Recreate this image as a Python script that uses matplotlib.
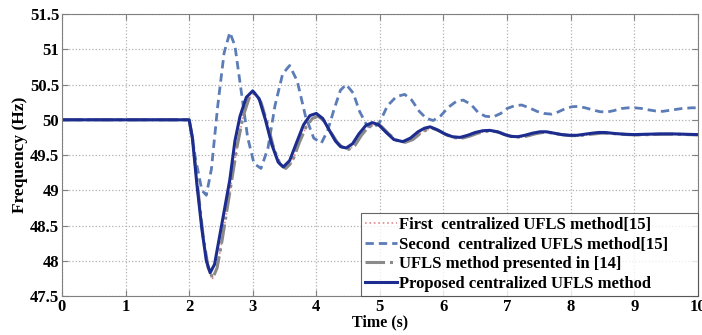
import matplotlib
matplotlib.use("Agg")
import matplotlib.pyplot as plt

# Second centralized UFLS method [15]
second_t = [0, 2.0, 2.1, 2.2, 2.27, 2.35, 2.45, 2.55, 2.64, 2.72, 2.82, 2.92, 3.02, 3.13,
            3.24, 3.35, 3.47, 3.58, 3.70, 3.83, 3.96, 4.08, 4.18, 4.28, 4.38, 4.47, 4.58,
            4.68, 4.79, 4.89, 5.0, 5.12, 5.26, 5.39, 5.5, 5.62, 5.73, 5.84, 5.96, 6.08,
            6.2, 6.31, 6.43, 6.55, 6.66, 6.78, 6.9, 7.0, 7.12, 7.23, 7.35, 7.47, 7.58,
            7.70, 7.8, 7.92, 8.02, 8.11, 8.23, 8.35, 8.46, 8.57, 8.68, 8.8, 8.9, 9.01,
            9.12, 9.23, 9.34, 9.45, 9.6, 9.75, 9.9, 10]
second_f = [50, 50, 49.45, 49.0, 48.93, 49.3, 50.2, 50.95, 51.24, 51.05, 50.4, 49.75, 49.38, 49.31,
            49.6, 50.2, 50.65, 50.77, 50.55, 50.05, 49.74, 49.67, 49.85, 50.15, 50.42, 50.5, 50.38,
            50.12, 49.93, 49.88, 49.97, 50.2, 50.33, 50.36, 50.28, 50.12, 50.02, 49.99, 50.06, 50.18,
            50.26, 50.28, 50.22, 50.1, 50.05, 50.04, 50.09, 50.16, 50.2, 50.21, 50.17, 50.12, 50.09,
            50.08, 50.11, 50.16, 50.185, 50.19, 50.17, 50.14, 50.115, 50.11, 50.13, 50.16, 50.17, 50.17,
            50.16, 50.14, 50.125, 50.12, 50.14, 50.16, 50.17, 50.17]

# Proposed centralized UFLS method
prop_t = [0, 2.0, 2.05, 2.12, 2.2, 2.27, 2.33, 2.4, 2.48, 2.57, 2.64, 2.72, 2.8, 2.9, 3.0,
          3.1, 3.2, 3.3, 3.4, 3.48, 3.58, 3.7, 3.8, 3.9, 4.0, 4.1, 4.2, 4.3, 4.38, 4.47,
          4.57, 4.67, 4.78, 4.88, 4.98, 5.1, 5.22, 5.36, 5.48, 5.6, 5.7, 5.79, 5.9, 6.02,
          6.14, 6.26, 6.38, 6.5, 6.62, 6.73, 6.85, 6.96, 7.06, 7.17, 7.28, 7.4, 7.52, 7.62,
          7.74, 7.86, 7.98, 8.1, 8.22, 8.34, 8.44, 8.54, 8.7, 8.85, 9.0, 9.2, 9.4, 9.6, 9.8, 10]
prop_f = [50, 50, 49.75, 49.1, 48.45, 48.0, 47.83, 47.95, 48.35, 48.8, 49.15, 49.7, 50.05, 50.32, 50.41,
          50.3, 50.0, 49.65, 49.4, 49.33, 49.42, 49.7, 49.93, 50.06, 50.09, 50.02, 49.86, 49.7, 49.62, 49.6,
          49.66, 49.8, 49.92, 49.96, 49.93, 49.82, 49.72, 49.69, 49.74, 49.83, 49.88, 49.9, 49.86, 49.8,
          49.76, 49.75, 49.78, 49.82, 49.845, 49.85, 49.83, 49.79, 49.765, 49.76, 49.78, 49.81, 49.83, 49.83,
          49.81, 49.79, 49.78, 49.78, 49.795, 49.81, 49.82, 49.82, 49.805, 49.795, 49.79, 49.795, 49.8, 49.8, 49.795, 49.79]

# UFLS method presented in [14]
ufls14_t = [0, 2.0, 2.06, 2.14, 2.22, 2.3, 2.37, 2.44, 2.52, 2.6, 2.68, 2.76, 2.85, 2.94, 3.03,
            3.13, 3.23, 3.33, 3.43, 3.52, 3.62, 3.73, 3.84, 3.94, 4.03, 4.13, 4.23, 4.33, 4.42,
            4.51, 4.61, 4.71, 4.82, 4.92, 5.02, 5.14, 5.26, 5.4, 5.52, 5.64, 5.74, 5.83, 5.94,
            6.06, 6.18, 6.3, 6.42, 6.54, 6.66, 6.77, 6.89, 7.0, 7.1, 7.21, 7.32, 7.44, 7.56,
            7.66, 7.78, 7.9, 8.02, 8.14, 8.26, 8.38, 8.48, 8.58, 8.74, 8.9, 9.05, 9.25, 9.45,
            9.65, 9.85, 10]
ufls14_f = [50, 50, 49.7, 49.0, 48.35, 47.9, 47.75, 47.9, 48.3, 48.75, 49.2, 49.65, 50.05, 50.3, 50.38,
            50.25, 49.95, 49.6, 49.37, 49.31, 49.4, 49.67, 49.9, 50.02, 50.05, 49.98, 49.82, 49.68, 49.6,
            49.58, 49.64, 49.78, 49.9, 49.94, 49.91, 49.8, 49.71, 49.68, 49.72, 49.81, 49.86, 49.88, 49.84,
            49.78, 49.745, 49.74, 49.77, 49.81, 49.835, 49.84, 49.82, 49.78, 49.76, 49.755, 49.77, 49.8, 49.82,
            49.82, 49.80, 49.785, 49.775, 49.775, 49.79, 49.80, 49.81, 49.81, 49.8, 49.79, 49.785, 49.79, 49.795,
            49.795, 49.79, 49.785]

# First centralized UFLS method [15] -- lies under the [14] curve
first_t = list(ufls14_t)
first_f = list(ufls14_f)

labels = ["First  centralized UFLS method[15]",
          "Second  centralized UFLS method[15]",
          "UFLS method presented in [14]",
          "Proposed centralized UFLS method"]

plt.rcParams["font.family"] = ["Liberation Serif", "DejaVu Serif"]
plt.rcParams["font.weight"] = "bold"

fig = plt.figure(figsize=(7.02, 3.35), dpi=100)
ax = fig.add_axes([0.0883, 0.1164, 0.9057, 0.8416])

ax.plot(first_t, first_f, ":", color="#e08a8a", lw=1.2, label=labels[0])
ax.plot(second_t, second_f, "--", color="#5b7cb6", lw=2.0, dashes=(3, 1.8), label=labels[1])
ax.plot(ufls14_t, ufls14_f, "-.", color="#8a8a8a", lw=2.2, label=labels[2])
ax.plot(prop_t, prop_f, "-", color="#1c2d8f", lw=2.2, label=labels[3])

ax.set_xlim(0, 10)
ax.set_ylim(47.5, 51.5)
ax.set_xticks(range(0, 11))
ax.set_yticks([47.5, 48, 48.5, 49, 49.5, 50, 50.5, 51, 51.5])
ax.set_yticklabels(["47.5", "48", "48.5", "49", "49.5", "50", "50.5", "51", "51.5"])
ax.grid(True, linestyle=":", color="#b0b0b0", lw=0.9)
ax.tick_params(direction="in", top=True, right=True, labelsize=12, length=4,
               color="#808080", pad=2)
for lab in ax.get_xticklabels() + ax.get_yticklabels():
    lab.set_fontweight("bold")
for sp in ax.spines.values():
    sp.set_color("#808080")

ax.set_xlabel("Time (s)", fontsize=11.5, fontweight="bold", labelpad=0)
ax.set_ylabel("Frequency (Hz)", fontsize=12.5, fontweight="bold", labelpad=1)

leg = ax.legend(loc="lower left", bbox_to_anchor=(0.470, 0.0, 0.530, 0.3), mode="expand",
                frameon=True, fancybox=False,
                borderaxespad=0.0, handlelength=1.9, handletextpad=0.15,
                labelspacing=0.22, borderpad=0.25, prop={"weight": "bold", "size": 12})
leg.get_frame().set_edgecolor("#404040")
leg.get_frame().set_linewidth(0.8)

fig.savefig("out.png", dpi=100)
